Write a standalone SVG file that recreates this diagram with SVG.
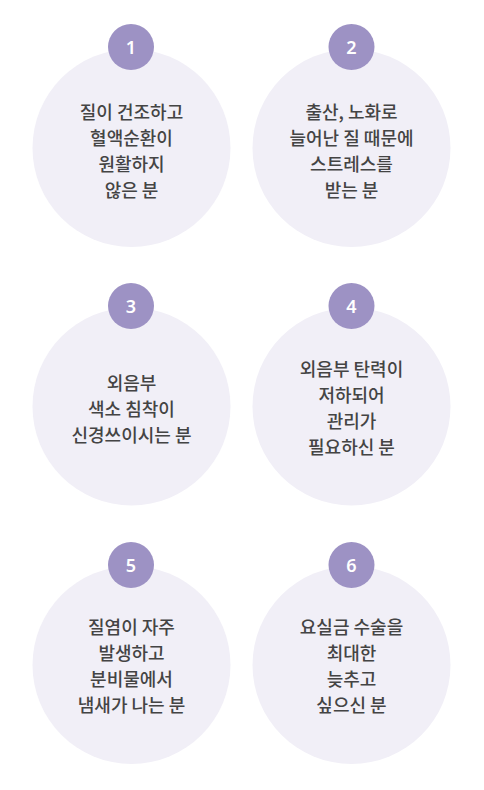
<svg xmlns="http://www.w3.org/2000/svg" width="484" height="790" viewBox="0 0 484 790">
<style>
.bg{fill:#f1eff7}
.badge{fill:#9d92c4}
.num{fill:#ffffff;font-family:"Noto Sans","Noto Sans CJK KR",sans-serif;font-size:18px;font-weight:600;text-anchor:middle}
.t{fill:#444444;font-family:"Noto Sans CJK KR","Noto Sans",sans-serif;font-size:18px;font-weight:500;text-anchor:middle}
</style>
<rect width="484" height="790" fill="#ffffff"/>
<g id="node1">
<circle class="bg" cx="131.5" cy="148" r="99"/>
<circle class="badge" cx="131" cy="47" r="23"/>
<text class="num" x="131" y="53.5">1</text>
<text class="t" x="131.5" y="119">질이 건조하고</text>
<text class="t" x="131.5" y="145">혈액순환이</text>
<text class="t" x="131.5" y="171">원활하지</text>
<text class="t" x="131.5" y="197">않은 분</text>
</g>
<g id="node2">
<circle class="bg" cx="351.5" cy="148" r="99"/>
<circle class="badge" cx="351.5" cy="47" r="23"/>
<text class="num" x="351.5" y="53.5">2</text>
<text class="t" x="351.5" y="119">출산, 노화로</text>
<text class="t" x="351.5" y="145">늘어난 질 때문에</text>
<text class="t" x="351.5" y="171">스트레스를</text>
<text class="t" x="351.5" y="197">받는 분</text>
</g>
<g id="node3">
<circle class="bg" cx="131.5" cy="406.5" r="99"/>
<circle class="badge" cx="131" cy="306" r="23"/>
<text class="num" x="131" y="312.5">3</text>
<text class="t" x="131.5" y="390">외음부</text>
<text class="t" x="131.5" y="416">색소 침착이</text>
<text class="t" x="131.5" y="442">신경쓰이시는 분</text>
</g>
<g id="node4">
<circle class="bg" cx="351.5" cy="406.5" r="99"/>
<circle class="badge" cx="351.5" cy="306" r="23"/>
<text class="num" x="351.5" y="312.5">4</text>
<text class="t" x="351.5" y="376">외음부 탄력이</text>
<text class="t" x="351.5" y="402">저하되어</text>
<text class="t" x="351.5" y="428">관리가</text>
<text class="t" x="351.5" y="454">필요하신 분</text>
</g>
<g id="node5">
<circle class="bg" cx="131.5" cy="665" r="99"/>
<circle class="badge" cx="131" cy="565" r="23"/>
<text class="num" x="131" y="571.5">5</text>
<text class="t" x="131.5" y="634">질염이 자주</text>
<text class="t" x="131.5" y="660">발생하고</text>
<text class="t" x="131.5" y="686">분비물에서</text>
<text class="t" x="131.5" y="712">냄새가 나는 분</text>
</g>
<g id="node6">
<circle class="bg" cx="351.5" cy="665" r="99"/>
<circle class="badge" cx="351.5" cy="565" r="23"/>
<text class="num" x="351.5" y="571.5">6</text>
<text class="t" x="351.5" y="634">요실금 수술을</text>
<text class="t" x="351.5" y="660">최대한</text>
<text class="t" x="351.5" y="686">늦추고</text>
<text class="t" x="351.5" y="712">싶으신 분</text>
</g>
</svg>
